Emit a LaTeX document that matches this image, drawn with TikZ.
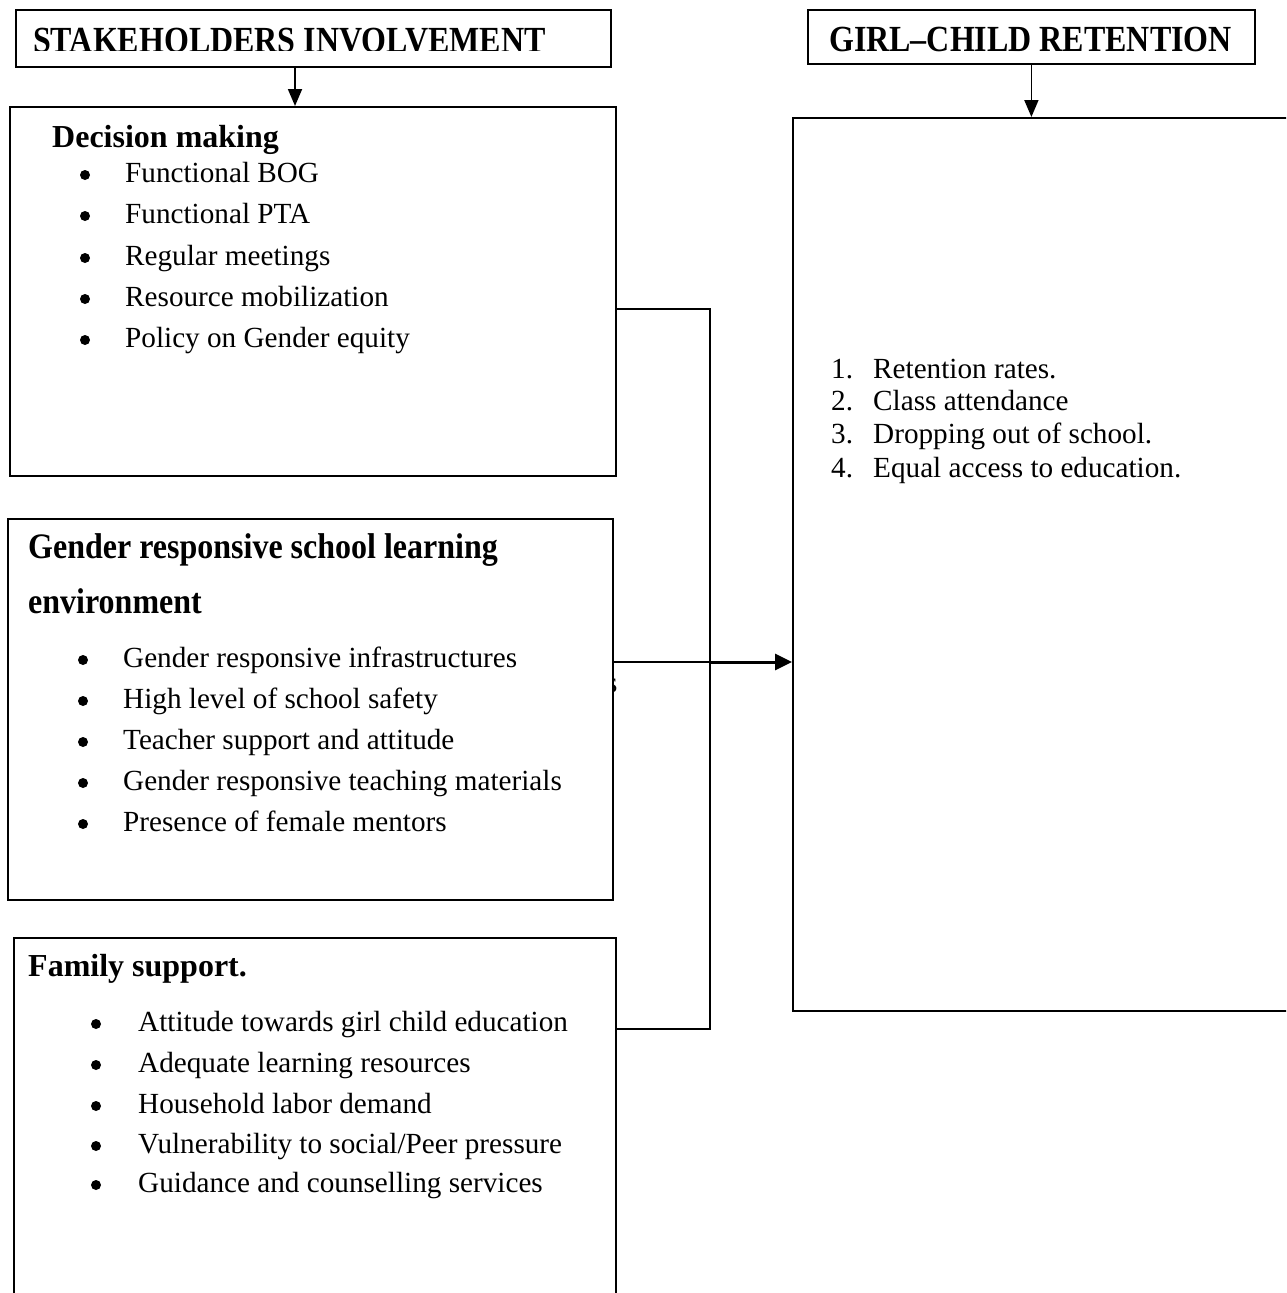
\documentclass[tikz,border=0pt]{standalone}
\usepackage{fontspec}
\setmainfont{Liberation Serif}
\usetikzlibrary{arrows.meta}
\tikzset{
  box/.style={draw, line width=1.8pt, fill=white, inner sep=0pt, anchor=north west},
  conn/.style={draw, line width=1.8pt},
  arr/.style={draw, line width=1.8pt, -{Triangle[width=14pt,length=17pt]}},
  body/.style={anchor=base west, inner sep=0pt, font=\fontsize{29.2}{35}\selectfont},
  dot/.style={circle, fill=black, inner sep=0pt, minimum size=10pt},
  head/.style={anchor=base west, inner sep=0pt, font=\fontsize{32}{38}\selectfont\bfseries},
}
\begin{document}
\begin{tikzpicture}[x=1pt,y=-1pt]
\useasboundingbox[fill=white] (0,0) rectangle (1286,1293);
\clip (0,0) rectangle (1286,1293);
% stray letter behind the gender box edge
\node[body] (stray) at (606,692) {s};
% boxes
\node[box, minimum width=595pt, minimum height=57pt] (sh) at (15,9) {};
\node[box, minimum width=447pt, minimum height=54pt] (gc) at (807,9) {};
\node[box, minimum width=606pt, minimum height=369pt] (dm) at (9,106) {};
\node[box, minimum width=605pt, minimum height=381pt] (ge) at (7,518) {};
\node[box, minimum width=602pt, minimum height=420pt] (fs) at (13,937) {};
\node[box, minimum width=600pt, minimum height=893pt] (rb) at (792,117) {};
% header texts
\begin{scope}
\clip (15,9) rectangle (610,50);
\node[head] (shT) at (33,52) {\scalebox{1}[1.15]{STAKEHOLDERS INVOLVEMENT}};
\end{scope}
\node[head, anchor=base] (gcT) at (1030.5,51) {\scalebox{1}[1.15]{GIRL–CHILD RETENTION}};
% decision making
\node[head] (dmH) at (52,147) {Decision making};
\foreach \t/\y [count=\i] in {{Functional BOG}/182, {Functional PTA}/223, {Regular meetings}/265, {Resource mobilization}/306, {Policy on Gender equity}/347}{
  \node[dot] (dmB\i) at (85,\y-7) {};
  \node[body] (dmT\i) at (125,\y) {\t};
}
% gender responsive
\node[head] (geH1) at (28,558) {\scalebox{1}[1.12]{Gender responsive school learning}};
\node[head] (geH2) at (28,613) {\scalebox{1}[1.12]{environment}};
\foreach \t/\y [count=\i] in {{Gender responsive infrastructures}/667, {High level of school safety}/708, {Teacher support and attitude}/749, {Gender responsive teaching materials}/790, {Presence of female mentors}/831}{
  \node[dot] (geB\i) at (83,\y-7) {};
  \node[body] (geT\i) at (123,\y) {\t};
}
% family support
\node[head] (fsH) at (28,976) {Family support.};
\foreach \t/\y [count=\i] in {{Attitude towards girl child education}/1031, {Adequate learning resources}/1072, {Household labor demand}/1113, {Vulnerability to social/Peer pressure}/1153, {Guidance and counselling services}/1192}{
  \node[dot] (fsB\i) at (96,\y-7) {};
  \node[body] (fsT\i) at (138,\y) {\t};
}
% numbered list
\foreach \t/\y [count=\i] in {{Retention rates.}/378, {Class attendance}/410, {Dropping out of school.}/443, {Equal access to education.}/477}{
  \node[body] (rbN\i) at (831,\y) {\i.};
  \node[body] (rbT\i) at (873,\y) {\t};
}
% connectors
\coordinate (ax) at (295,0);
\draw[arr] (sh.south -| ax) -- (dm.north -| ax);
\draw[arr] (gc.south) -- (rb.north -| gc.south);
\coordinate (jt) at (710,309);
\coordinate (jm) at (710,662);
\coordinate (jb) at (710,1029);
\draw[conn] (dm.east |- jt) -- (jt) -- (jb) -- (fs.east |- jb);
\draw[conn] (ge.east |- jm) -- (jm);
\draw[draw, line width=3pt, -{Triangle[width=16pt,length=17pt]}] (jm) -- (rb.west |- jm);
\end{tikzpicture}
\end{document}
